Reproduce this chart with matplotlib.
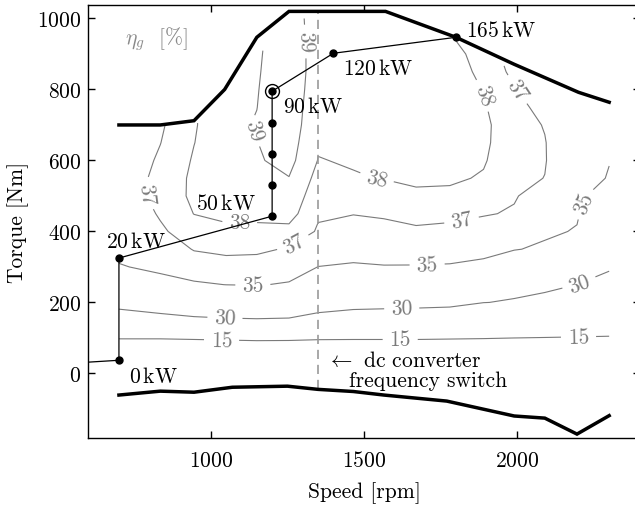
import numpy as np
import matplotlib
matplotlib.use("Agg")
import matplotlib.pyplot as plt

plt.rcParams.update({
    "font.family": "cmr10",
    "mathtext.fontset": "cm",
    "axes.unicode_minus": False,
    "axes.formatter.use_mathtext": True,
    "font.size": 15.5,
    "axes.linewidth": 1.0,
})

# ---- generator efficiency map (eta_g in %) ----
# torque rows [Nm]
torque_rows = [0, 50, 100, 150, 200, 250, 300, 350, 400, 450, 500,
               550, 600, 650, 700, 750, 800, 850, 900, 950, 1000, 1050]
# measured speed columns [rpm]
speed_cols = [700, 835, 945, 1050, 1150, 1255, 1350, 1465,
              1565, 1670, 1780, 1890, 1990, 2090, 2195, 2300]

eta_700 = [0, 7.7, 15.4, 28.69, 30.8, 32.8, 34.9, 35.4, 35.9, 36.2, 36.3,
           36.3, 36.2, 36.1, 36.0, 35.9, 35.8, 35.7, 35.6, 35.6, 35.5, 35.5]
eta_835 = [0, 7.7, 15.4, 29.15, 31.4, 34.5, 35.3, 35.9, 36.85, 37.1, 37.35,
           37.3, 37.15, 36.98, 36.85, 36.7, 36.6, 36.5, 36.4, 36.3, 36.2, 36.1]
eta_945 = [0, 7.7, 15.7, 29.5, 32.0, 34.75, 36.0, 37.1, 37.5, 38.02, 38.2,
           38.2, 38.1, 37.98, 37.9, 37.8, 37.7, 37.6, 37.5, 37.4, 37.3, 37.2]
eta_1050 = [0, 7.8, 16.0, 29.69, 32.3, 35.02, 36.64, 37.2, 37.9, 38.1, 38.4,
            38.5, 38.6, 38.7, 38.8, 38.8, 38.8, 38.75, 38.7, 38.7, 38.65, 38.6]
eta_1150 = [0, 7.9, 16.3, 29.78, 32.5, 35.1, 36.53, 37.2, 37.8, 38.2, 38.5,
            38.7, 38.9, 38.98, 39.05, 38.99, 38.95, 38.9, 38.85, 38.82, 38.8, 38.78]
eta_1255 = [0, 7.9, 16.2, 29.7, 32.2, 34.83, 35.9, 36.9, 37.7, 38.4, 38.7,
            38.97, 39.3, 39.45, 39.6, 39.65, 39.7, 39.7, 39.7, 39.65, 39.6, 39.5]
eta_1350 = [0, 7.8, 15.8, 29.2, 31.1, 33.1, 34.98, 35.8, 36.9, 37.1, 37.4,
            37.7, 37.97, 38.1, 38.2, 38.3, 38.4, 38.5, 38.5, 38.48, 38.45, 38.4]
eta_1465 = [0, 7.8, 15.7, 28.8, 30.8, 32.7, 34.81, 35.6, 36.3, 37.05, 37.4,
            37.94, 38.07, 38.2, 38.25, 38.3, 38.32, 38.35, 38.33, 38.3, 38.25, 38.2]
eta_1565 = [0, 7.8, 15.7, 28.75, 30.7, 32.8, 34.92, 35.7, 36.5, 37.2, 37.6,
            38.03, 38.3, 38.45, 38.6, 38.65, 38.7, 38.7, 38.7, 38.65, 38.6, 38.5]
eta_1670 = [0, 7.8, 15.7, 28.51, 30.7, 32.8, 34.9, 35.8, 36.85, 37.3, 37.8,
            38.2, 38.5, 38.65, 38.8, 38.85, 38.9, 38.85, 38.8, 38.7, 38.6, 38.5]
eta_1780 = [0, 7.7, 15.5, 28.58, 30.5, 32.6, 34.85, 35.7, 36.8, 37.2, 37.86,
            38.1, 38.4, 38.5, 38.6, 38.6, 38.6, 38.5, 38.4, 38.07, 37.8, 37.5]
eta_1890 = [0, 7.7, 15.3, 22.8, 30.1, 32.1, 34.57, 35.5, 36.4, 37.1, 37.5,
            37.94, 38.06, 38.12, 38.15, 38.08, 37.96, 37.75, 37.55, 37.4, 37.25, 37.1]
eta_1990 = [0, 7.5, 15.02, 21.8, 29.58, 31.5, 33.3, 35.1, 35.8, 36.88, 37.1,
            37.3, 37.55, 37.6, 37.56, 37.4, 37.07, 36.73, 36.45, 36.2, 36.0, 35.8]
eta_2090 = [0, 7.4, 14.85, 20.8, 29.11, 30.7, 32.4, 34.7, 35.3, 35.8, 36.4,
            36.98, 37.07, 37.06, 36.93, 36.6, 36.3, 36.0, 35.8, 35.6, 35.5, 35.3]
eta_2195 = [0, 7.35, 14.7, 19.9, 24.9, 29.98, 31.5, 33.0, 34.88, 35.2, 35.6,
            35.8, 35.75, 35.65, 35.5, 35.25, 35.1, 34.9, 34.7, 34.6, 34.4, 34.3]
eta_2300 = [0, 7.3, 14.6, 18.8, 22.9, 29.37, 30.2, 31.0, 31.9, 32.7, 33.6,
            34.89, 35.05, 35.2, 35.3, 35.25, 35.2, 35.15, 35.1, 35.05, 35.02, 34.95]

eta_levels = [15, 30, 35, 37, 38, 39]

# ---- torque envelope ----
top_speed = [700, 835, 945, 1045, 1150, 1255, 1570, 1800, 1990, 2200, 2300]
top_torque = [700, 700, 712, 800, 947, 1020, 1020, 947, 871, 792, 764]
bottom_speed = [700, 835, 945, 1070, 1250, 1350, 1465, 1565, 1770, 1990,
                2090, 2195, 2300]
bottom_torque = [-61, -50, -53, -39, -36, -45, -51, -61, -78, -120,
                 -126, -171, -119]

# ---- operating points ----
path_speed = [0, 700, 700, 1200, 1200, 1200, 1200, 1200, 1400, 1800]
path_torque = [0, 37, 325, 443, 530, 617, 705, 795, 902, 947]
marked_index = 7  # 90 kW point

power_labels = ["0", "20", "50", "90", "120", "165"]
power_label_xy = [(732, -24), (658, 356), (952, 463), (1235, 736),
                  (1431, 843), (1833, 950)]

switch_speed = 1350

# ---- build the efficiency table, masked outside the envelope ----
eta_table = np.column_stack([eta_700, eta_835, eta_945, eta_1050, eta_1150,
                             eta_1255, eta_1350, eta_1465, eta_1565, eta_1670,
                             eta_1780, eta_1890, eta_1990, eta_2090, eta_2195,
                             eta_2300])
S, T = np.meshgrid(speed_cols, torque_rows)
t_max = np.interp(speed_cols, top_speed, top_torque)
t_min = np.interp(speed_cols, bottom_speed, bottom_torque)
outside = (T > t_max[None, :] + 1) | (T < t_min[None, :])
eta_masked = np.ma.masked_where(outside, eta_table)

fig = plt.figure(figsize=(6.35, 5.06), dpi=100)
ax = fig.add_axes([88.3 / 635, 67 / 506, (639.8 - 88.3) / 635, (500 - 67) / 506])

gray = "#7a7a7a"
cs = ax.contour(S, T, eta_masked, levels=eta_levels, colors=gray,
                linewidths=0.8, zorder=1)
label_spots = [(1035, 97), (1618, 97), (2200, 103),
               (1046, 157), (1623, 183), (2200, 258),
               (1137, 244), (1706, 303), (2239, 472),
               (791, 506), (1273, 360), (1819, 428), (2000, 800),
               (1094, 417), (1541, 548), (1885, 782),
               (1137, 683), (1307, 935)]
ax.clabel(cs, fmt="%d", fontsize=15.5, inline=True, inline_spacing=9,
          manual=label_spots)

# frequency switch of the dc converter
ax.plot([switch_speed, switch_speed],
        [np.interp(switch_speed, bottom_speed, bottom_torque),
         np.interp(switch_speed, top_speed, top_torque)],
        color="#9a9a9a", lw=1.2, dashes=(5.5, 3.5), zorder=2)

# envelope
ax.plot(top_speed, top_torque, color="k", lw=2.5, solid_joinstyle="miter", zorder=3)
ax.plot(bottom_speed, bottom_torque, color="k", lw=2.5, solid_joinstyle="miter", zorder=3)

# operating path
ax.plot(path_speed, path_torque, color="k", lw=0.9, zorder=4)
ax.plot(path_speed[1:], path_torque[1:], "o", color="k", ms=5, zorder=5)
ax.plot(path_speed[marked_index], path_torque[marked_index], "o", mfc="none",
        mec="k", ms=10, mew=1.0, zorder=5)

for lab, (x, y) in zip(power_labels, power_label_xy):
    ax.text(x, y, r"$%s\,\mathrm{kW}$" % lab, fontsize=15.5, va="baseline",
            ha="left", zorder=6)

ax.text(719, 930, r"$\eta_g$  [%]", color="#8a8a8a", fontsize=15.5,
        va="baseline", ha="left")
ax.text(1380, 21, r"$\leftarrow$ dc converter", fontsize=15.5, va="baseline",
        ha="left")
ax.text(1452, -35, "frequency switch", fontsize=15.5, va="baseline", ha="left")

ax.set_xlim(600, 2400)
ax.set_ylim(-182, 1038)
ax.set_xticks([1000, 1500, 2000])
ax.set_yticks([0, 200, 400, 600, 800, 1000])
ax.tick_params(direction="in", top=True, right=True, length=5, width=1.0)
ax.tick_params(axis="x", pad=9)
ax.tick_params(axis="y", pad=5)
ax.set_xlabel("Speed [rpm]", labelpad=8)
ax.set_ylabel("Torque [Nm]", labelpad=6)

fig.savefig("out.png", dpi=100)
